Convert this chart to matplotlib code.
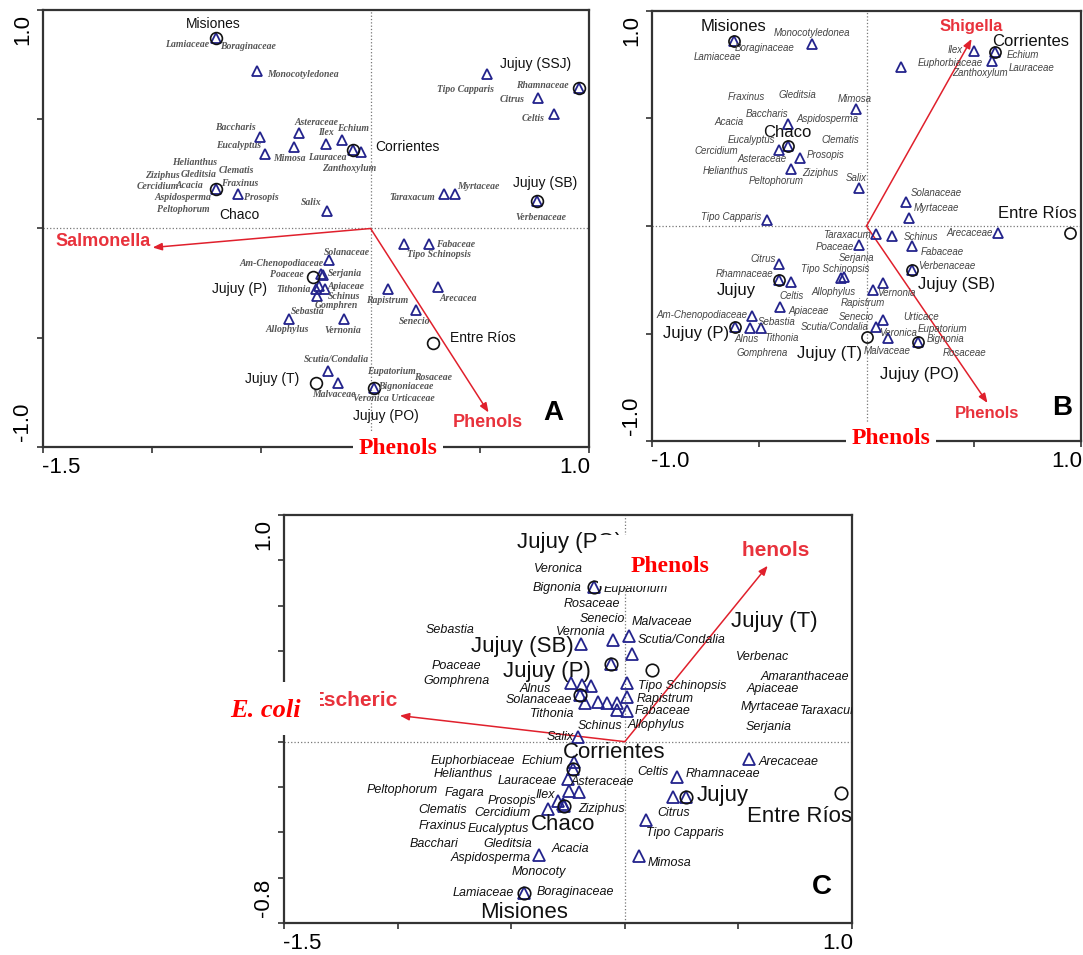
import numpy as np
import matplotlib.pyplot as plt
from matplotlib.patches import Rectangle

# ---- Painel A (Salmonella) ----
a_tri_x = [-0.710, -0.522, -0.508, -0.330, -0.206, -0.133, -0.485, -0.353, -0.082, -0.046,
           -0.710, -0.609, -0.201, 0.531, 0.952, 0.765, 0.842, 0.334, 0.385, 0.760,
           -0.192, -0.229, -0.220, -0.252, -0.238, -0.211, -0.247, -0.375, -0.124, -0.197,
           -0.147, 0.151, 0.266, 0.078, 0.307, 0.206, 0.014]
a_tri_y = [0.870, 0.719, 0.421, 0.439, 0.389, 0.403, 0.339, 0.371, 0.357, 0.348,
           0.183, 0.156, 0.078, 0.709, 0.645, 0.595, 0.522, 0.156, 0.160, 0.128,
           -0.146, -0.206, -0.211, -0.275, -0.261, -0.275, -0.307, -0.412, -0.416, -0.650,
           -0.709, -0.069, -0.073, -0.279, -0.270, -0.375, -0.728]

a_site_nome = ['Misiones', 'Corrientes', 'Chaco', 'Jujuy (SSJ)', 'Jujuy (SB)', 'Jujuy (P)',
               'Jujuy (T)', 'Entre Ríos', 'Jujuy (PO)']
a_site_x = [-0.710, -0.082, -0.710, 0.952, 0.760, -0.266, -0.252, 0.288, 0.014]
a_site_y = [0.870, 0.357, 0.183, 0.645, 0.128, -0.224, -0.705, -0.526, -0.728]
a_site_lx = [-0.719, 0.169, -0.600, 0.755, 0.797, -0.600, -0.453, 0.513, 0.069]
a_site_ly = [0.934, 0.375, 0.064, 0.755, 0.206, -0.275, -0.691, -0.503, -0.856]

a_esp_nome = ['Lamiaceae', 'Boraginaceae', 'Monocotyledonea', 'Baccharis', 'Asteraceae', 'Ilex',
              'Echium', 'Eucalyptus', 'Mimosa', 'Lauracea', 'Zanthoxylum', 'Helianthus', 'Clematis',
              'Ziziphus', 'Gleditsia', 'Cercidium', 'Acacia', 'Fraxinus', 'Aspidosperma', 'Prosopis',
              'Salix', 'Peltophorum', 'Tipo Capparis', 'Rhamnaceae', 'Citrus', 'Celtis', 'Taraxacum',
              'Myrtaceae', 'Verbenaceae', 'Solanaceae', 'Am-Chenopodiaceae', 'Poaceae', 'Serjania',
              'Tithonia', 'Apiaceae', 'Schinus', 'Gomphren', 'Sebastia', 'Allophylus', 'Vernonia',
              'Scutia/Condalia', 'Malvaceae', 'Fabaceae', 'Tipo Schinopsis', 'Rapistrum', 'Arecacea',
              'Senecio', 'Eupatorium', 'Rosaceae', 'Bignoniaceae', 'Veronica Urticaceae']
a_esp_x = [-0.842, -0.559, -0.311, -0.618, -0.247, -0.206, -0.082, -0.604, -0.371, -0.197,
           -0.096, -0.806, -0.614, -0.952, -0.788, -0.975, -0.829, -0.600, -0.861, -0.499,
           -0.270, -0.856, 0.435, 0.788, 0.650, 0.742, 0.192, 0.495, 0.778, -0.110,
           -0.408, -0.385, -0.119, -0.353, -0.114, -0.124, -0.156, -0.288, -0.380, -0.128,
           -0.156, -0.169, 0.389, 0.311, 0.078, 0.403, 0.201, 0.096, 0.284, 0.160, 0.105]
a_esp_y = [0.842, 0.833, 0.705, 0.462, 0.485, 0.439, 0.458, 0.380, 0.320, 0.325,
           0.275, 0.302, 0.265, 0.243, 0.247, 0.192, 0.197, 0.206, 0.142, 0.142,
           0.119, 0.087, 0.636, 0.654, 0.590, 0.503, 0.142, 0.192, 0.050, -0.110,
           -0.160, -0.211, -0.206, -0.279, -0.265, -0.311, -0.352, -0.380, -0.462, -0.467,
           -0.600, -0.760, -0.073, -0.119, -0.330, -0.320, -0.426, -0.654, -0.682, -0.723, -0.778]

a_vet_nome = ['Salmonella', 'Phenols']
a_vet_x = [-0.998, 0.540]
a_vet_y = [-0.087, -0.842]
a_vet_lx = [-1.227, 0.536]
a_vet_ly = [-0.059, -0.888]

# ---- Painel B (Shigella) ----
b_tri_x = [-0.620, -0.252, -0.051, -0.368, -0.368, -0.406, -0.308, -0.350, -0.033, -0.462,
           0.503, 0.601, 0.587, 0.163, 0.182, 0.196, 0.042, -0.033, -0.406, -0.117,
           -0.103, -0.410, -0.350, 0.028, -0.401, -0.536, -0.615, -0.541, -0.494, 0.042,
           0.121, 0.611, 0.210, 0.210, 0.079, 0.075, 0.098, 0.242]
b_tri_y = [0.860, 0.847, 0.544, 0.474, 0.372, 0.353, 0.316, 0.265, 0.177, 0.028,
           0.814, 0.809, 0.767, 0.740, 0.112, 0.037, -0.037, -0.088, -0.177, -0.242,
           -0.237, -0.251, -0.260, -0.298, -0.377, -0.419, -0.470, -0.474, -0.474, -0.470,
           -0.047, -0.033, -0.093, -0.205, -0.265, -0.437, -0.521, -0.540]

b_site_nome = ['Misiones', 'Chaco', 'Corrientes', 'Entre Ríos', 'Jujuy', 'Jujuy (P)',
               'Jujuy (T)', 'Jujuy (SB)', 'Jujuy (PO)']
b_site_x = [-0.620, -0.368, 0.601, 0.951, -0.410, -0.615, 0.000, 0.210, 0.242]
b_site_y = [0.860, 0.372, 0.809, -0.033, -0.251, -0.470, -0.516, -0.205, -0.540]
b_site_lx = [-0.620, -0.368, 0.765, 0.797, -0.606, -0.793, -0.172, 0.420, 0.247]
b_site_ly = [0.926, 0.433, 0.860, 0.056, -0.302, -0.498, -0.591, -0.270, -0.693]

b_esp_nome = ['Boraginaceae', 'Lamiaceae', 'Monocotyledonea', 'Fraxinus', 'Gleditsia', 'Mimosa',
              'Baccharis', 'Aspidosperma', 'Acacia', 'Eucalyptus', 'Clematis', 'Cercidium',
              'Asteraceae', 'Prosopis', 'Helianthus', 'Ziziphus', 'Peltophorum', 'Salix',
              'Tipo Capparis', 'Ilex', 'Echium', 'Lauraceae', 'Zanthoxylum', 'Euphorbiaceae',
              'Solanaceae', 'Myrtaceae', 'Taraxacum', 'Poaceae', 'Serjania', 'Citrus',
              'Tipo Schinopsis', 'Rhamnaceae', 'Allophylus', 'Celtis', 'Rapistrum', 'Apiaceae',
              'Am-Chenopodiaceae', 'Senecio', 'Sebastia', 'Scutia/Condalia', 'Alnus', 'Tithonia',
              'Gomphrena', 'Schinus', 'Arecaceae', 'Fabaceae', 'Verbenaceae', 'Vernonia',
              'Urticace', 'Eupatorium', 'Veronica', 'Bignonia', 'Rosaceae', 'Malvaceae']
b_esp_x = [-0.476, -0.695, -0.252, -0.559, -0.322, -0.056, -0.462, -0.182, -0.643, -0.536,
           -0.121, -0.699, -0.485, -0.191, -0.657, -0.214, -0.420, -0.047, -0.629, 0.415,
           0.727, 0.769, 0.527, 0.392, 0.326, 0.326, -0.093, -0.149, -0.047, -0.480,
           -0.145, -0.569, -0.154, -0.350, -0.019, -0.270, -0.769, -0.047, -0.420, -0.149,
           -0.559, -0.396, -0.485, 0.256, 0.480, 0.354, 0.373, 0.140, 0.256, 0.354,
           0.149, 0.368, 0.457, 0.098]
b_esp_y = [0.828, 0.786, 0.898, 0.600, 0.609, 0.591, 0.521, 0.498, 0.484, 0.400,
           0.400, 0.349, 0.312, 0.330, 0.256, 0.247, 0.209, 0.223, 0.042, 0.819,
           0.795, 0.735, 0.712, 0.758, 0.153, 0.084, -0.042, -0.098, -0.149, -0.153,
           -0.200, -0.223, -0.307, -0.326, -0.358, -0.395, -0.414, -0.423, -0.447, -0.470,
           -0.526, -0.521, -0.591, -0.051, -0.033, -0.121, -0.186, -0.312, -0.423, -0.479,
           -0.498, -0.526, -0.591, -0.581]

b_vet_nome = ['Shigella', 'Phenols']
b_vet_x = [0.490, 0.564]
b_vet_y = [0.870, -0.823]
b_vet_lx = [0.490, 0.564]
b_vet_ly = [0.926, -0.870]

# ---- Painel C (E. coli) ----
c_tri_x = [-0.136, -0.194, -0.053, 0.018, 0.031, -0.062, -0.238, -0.189, -0.150, 0.009,
           -0.198, -0.176, -0.119, -0.079, -0.035, 0.009, -0.035, 0.009, -0.207, -0.229,
           -0.224, -0.251, -0.246, -0.202, -0.295, -0.273, -0.268, -0.339, -0.379, -0.445,
           0.229, 0.546, 0.211, 0.268, 0.092, 0.062]
c_tri_y = [0.684, 0.432, 0.450, 0.468, 0.388, 0.344, 0.260, 0.251, 0.247, 0.260,
           0.207, 0.172, 0.176, 0.172, 0.172, 0.137, 0.141, 0.198, 0.022, -0.119,
           -0.088, -0.163, -0.216, -0.221, -0.260, -0.273, -0.282, -0.296, -0.498, -0.666,
           -0.154, -0.075, -0.243, -0.243, -0.344, -0.503]

c_site_nome = ['Jujuy (PO)', 'Jujuy (SB)', 'Jujuy (P)', 'Jujuy (T)', 'Corrientes', 'Chaco',
               'Misiones', 'Jujuy', 'Entre Ríos']
c_site_x = [-0.136, -0.062, -0.198, 0.119, -0.229, -0.268, -0.445, 0.268, 0.951]
c_site_y = [0.684, 0.344, 0.207, 0.318, -0.119, -0.282, -0.666, -0.243, -0.225]
c_site_lx = [-0.242, -0.449, -0.343, 0.660, -0.048, -0.273, -0.445, 0.431, 0.770]
c_site_ly = [0.878, 0.419, 0.309, 0.529, -0.049, -0.366, -0.754, -0.238, -0.331]

c_esp_nome = ['Veronica', 'Urticaceae', 'Bignonia', 'Eupatorium', 'Rosaceae', 'Senecio',
              'Sebastia', 'Vernonia', 'Malvaceae', 'Scutia/Condalia', 'Poaceae', 'Gomphrena',
              'Alnus', 'Solanaceae', 'Tithonia', 'Schinus', 'Salix', 'Verbenac', 'Amaranthaceae',
              'Tipo Schinopsis', 'Apiaceae', 'Rapistrum', 'Myrtaceae', 'Taraxacum', 'Fabaceae',
              'Serjania', 'Allophylus', 'Euphorbiaceae', 'Echium', 'Helianthus', 'Lauraceae',
              'Asteraceae', 'Peltophorum', 'Fagara', 'Ilex', 'Prosopis', 'Ziziphus', 'Clematis',
              'Cercidium', 'Fraxinus', 'Eucalyptus', 'Bacchari', 'Gleditsia', 'Acacia',
              'Aspidosperma', 'Monocoty', 'Lamiaceae', 'Boraginaceae', 'Celtis', 'Rhamnaceae',
              'Arecaceae', 'Citrus', 'Tipo Capparis', 'Mimosa']
c_esp_x = [-0.290, 0.009, -0.299, 0.048, -0.145, -0.097, -0.770, -0.194, 0.163, 0.251,
           -0.739, -0.739, -0.396, -0.379, -0.321, -0.110, -0.286, 0.607, 0.792, 0.251,
           0.651, 0.176, 0.638, 0.907, 0.167, 0.634, 0.136, -0.669, -0.361, -0.709,
           -0.427, -0.097, -0.982, -0.704, -0.352, -0.497, -0.101, -0.801, -0.537, -0.801,
           -0.555, -0.841, -0.515, -0.238, -0.590, -0.379, -0.625, -0.216, 0.123, 0.431,
           0.722, 0.216, 0.264, 0.198]
c_esp_y = [0.763, 0.772, 0.679, 0.675, 0.609, 0.543, 0.494, 0.485, 0.529, 0.450,
           0.335, 0.269, 0.234, 0.185, 0.124, 0.071, 0.022, 0.375, 0.287, 0.247,
           0.234, 0.190, 0.154, 0.137, 0.137, 0.066, 0.075, -0.084, -0.084, -0.141,
           -0.172, -0.176, -0.212, -0.225, -0.234, -0.260, -0.296, -0.300, -0.313, -0.371,
           -0.384, -0.450, -0.450, -0.472, -0.512, -0.573, -0.666, -0.662, -0.132, -0.141,
           -0.088, -0.313, -0.401, -0.534]

c_vet_nome = ['Escheric', 'Phenols']
c_vet_x = [-0.990, 0.629]
c_vet_y = [0.115, 0.776]
c_vet_lx = [-1.193, 0.638]
c_vet_ly = [0.181, 0.843]

# ---- Estilos ----
AZUL = '#23238c'
VERMELHO = '#e8323c'
W, H = 1083, 955


def px_fig(px, py):
    return px / W, 1 - py / H


def desenha_painel(ax, tri_x, tri_y, site_x, site_y, site_nome, site_lx, site_ly,
                   esp_nome, esp_x, esp_y, vet_nome, vet_x, vet_y, vet_lx, vet_ly,
                   xlim, ylim, xticks, yticks, xlab, ylab, letra,
                   fonte_esp, fs_site, fs_vet, ms_tri, ms_circ):
    ax.set_xlim(xlim)
    ax.set_ylim(ylim)
    ax.axhline(0, ls=':', color='#777777', lw=0.9, zorder=1)
    ax.axvline(0, ls=':', color='#777777', lw=0.9, zorder=1)

    # Vetores (setas vermelhas)
    for nome, vx, vy, lx, ly in zip(vet_nome, vet_x, vet_y, vet_lx, vet_ly):
        ax.annotate('', xy=(vx, vy), xytext=(0, 0),
                    arrowprops=dict(arrowstyle='-|>,head_length=0.55,head_width=0.22',
                                    color='#e0202c', lw=1.1, shrinkA=0, shrinkB=0), zorder=3)
        ax.text(lx, ly, nome, color=VERMELHO, fontsize=fs_vet, fontweight='bold',
                family='Liberation Sans', ha='center', va='center', zorder=4)

    # Espécies (triângulos) e sítios (círculos)
    ax.plot(tri_x, tri_y, ls='none', marker='^', ms=ms_tri, mfc='none', mec=AZUL, mew=1.3, zorder=5)
    ax.plot(site_x, site_y, ls='none', marker='o', ms=ms_circ, mfc='none', mec='#111111', mew=1.2, zorder=5)

    for nome, x, y in zip(esp_nome, esp_x, esp_y):
        ax.text(x, y, nome, ha='center', va='center', clip_on=True, zorder=6, **fonte_esp)
    for nome, x, y in zip(site_nome, site_lx, site_ly):
        ax.text(x, y, nome, ha='center', va='center', fontsize=fs_site,
                family='Liberation Sans', color='#111111', zorder=6)

    # Eixos
    ax.set_xticks(xticks)
    ax.set_yticks(yticks)
    ax.set_xticklabels([])
    ax.set_yticklabels([])
    ax.tick_params(direction='out', length=4, width=1.2, color='#333333')
    for s in ax.spines.values():
        s.set_linewidth(1.6)
        s.set_color('#333333')

    fs_tick = 16
    ax.annotate(ylab[1], xy=(0, 1), xycoords='axes fraction', xytext=(-7, -3),
                textcoords='offset points', rotation=90, ha='right', va='top',
                fontsize=fs_tick, family='Liberation Sans')
    ax.annotate(ylab[0], xy=(0, 0), xycoords='axes fraction', xytext=(-7, 4),
                textcoords='offset points', rotation=90, ha='right', va='bottom',
                fontsize=fs_tick, family='Liberation Sans')
    ax.annotate(xlab[0], xy=(0, 0), xycoords='axes fraction', xytext=(-1, -7),
                textcoords='offset points', ha='left', va='top',
                fontsize=fs_tick, family='Liberation Sans')
    ax.annotate(xlab[1], xy=(1, 0), xycoords='axes fraction', xytext=(1, -7),
                textcoords='offset points', ha='right', va='top',
                fontsize=fs_tick, family='Liberation Sans')
    ax.text(letra[1], letra[2], letra[0], transform=ax.transAxes, fontsize=20,
            fontweight='bold', family='Liberation Sans', ha='center', va='center')


fig = plt.figure(figsize=(W / 100, H / 100), dpi=100)

# posições dos painéis em pixels (esquerda, topo, direita, baixo)
def eixo(l, t, r, b):
    return fig.add_axes([l / W, 1 - b / H, (r - l) / W, (b - t) / H])

ax_a = eixo(43, 10, 589, 447)
ax_b = eixo(652, 11, 1081, 441)
ax_c = eixo(284, 515, 852, 923)

fonte_a = dict(family='Liberation Serif', style='italic', fontweight='bold', fontsize=7, color='#555555')
fonte_b = dict(family='Liberation Sans', style='italic', fontsize=7, color='#444444')
fonte_c = dict(family='Liberation Sans', style='italic', fontsize=9, color='#111111')

desenha_painel(ax_a, a_tri_x, a_tri_y, a_site_x, a_site_y, a_site_nome, a_site_lx, a_site_ly,
               a_esp_nome, a_esp_x, a_esp_y, a_vet_nome, a_vet_x, a_vet_y, a_vet_lx, a_vet_ly,
               (-1.5, 1.0), (-1.0, 1.0), np.arange(-1.5, 1.01, 0.5), np.arange(-1.0, 1.01, 0.5),
               ('-1.5', '1.0'), ('-1.0', '1.0'), ('A', 0.934, 0.078),
               fonte_a, 10, 13, 7, 8.5)
desenha_painel(ax_b, b_tri_x, b_tri_y, b_site_x, b_site_y, b_site_nome, b_site_lx, b_site_ly,
               b_esp_nome, b_esp_x, b_esp_y, b_vet_nome, b_vet_x, b_vet_y, b_vet_lx, b_vet_ly,
               (-1.0, 1.0), (-1.0, 1.0), np.arange(-1.0, 1.01, 0.5), np.arange(-1.0, 1.01, 0.5),
               ('-1.0', '1.0'), ('-1.0', '1.0'), ('B', 0.956, 0.077),
               fonte_b, 12, 12, 7, 8)
desenha_painel(ax_c, c_tri_x, c_tri_y, c_site_x, c_site_y, c_site_nome, c_site_lx, c_site_ly,
               c_esp_nome, c_esp_x, c_esp_y, c_vet_nome, c_vet_x, c_vet_y, c_vet_lx, c_vet_ly,
               (-1.5, 1.0), (-0.8, 1.0), np.arange(-1.5, 1.01, 0.5), np.arange(-0.8, 1.01, 0.2),
               ('-1.5', '1.0'), ('-0.8', '1.0'), ('C', 0.947, 0.088),
               fonte_c, 16, 15, 8, 9)

# Rótulos vermelhos sobrepostos (caixas brancas)
serif_red = dict(family='Liberation Serif', fontweight='bold', color='#ff0000', ha='center', va='center', zorder=12)
fig.text(*px_fig(398, 448), 'Phenols', fontsize=17,
         bbox=dict(facecolor='white', edgecolor='none', pad=4), **serif_red)
fig.text(*px_fig(891, 438), 'Phenols', fontsize=17,
         bbox=dict(facecolor='white', edgecolor='none', pad=4), **serif_red)

x0, y0 = px_fig(598, 586)
fig.add_artist(Rectangle((x0, y0), 145 / W, 51 / H, transform=fig.transFigure,
                         facecolor='white', edgecolor='none', zorder=11))
fig.text(*px_fig(670, 566), 'Phenols', fontsize=17, **serif_red)

x0, y0 = px_fig(220, 735)
fig.add_artist(Rectangle((x0, y0), 100 / W, 53 / H, transform=fig.transFigure,
                         facecolor='white', edgecolor='none', zorder=11))
fig.text(*px_fig(265, 710), 'E. coli', fontsize=19, style='italic', **serif_red)

fig.savefig('out.png', dpi=100)
